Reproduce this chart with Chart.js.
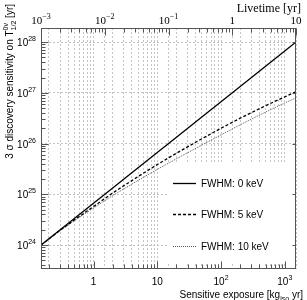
<!DOCTYPE html>
<html>
<head>
<meta charset="utf-8">
<script src="https://cdn.jsdelivr.net/npm/chart.js@4.4.0/dist/chart.umd.min.js"></script>
<style>
    html, body { margin: 0; padding: 0; background: #fff; }
    #wrap { width: 307px; height: 300px; }
</style>
</head>
<body>
<div id="wrap"><canvas id="chart" width="307" height="300"></canvas></div>
<script>
// Sensitive exposure [kg_iso yr]
const exposure = [0.15, 0.3, 0.5, 1, 2, 5, 10, 20, 50, 100, 200, 500, 1000, 1500];

// 3 sigma discovery sensitivity [yr]
const sensFwhm0 = [1.0e24, 2.0e24, 3.33e24, 6.67e24, 1.33e25, 3.33e25, 6.67e25, 1.33e26, 3.33e26, 6.67e26, 1.33e27, 3.33e27, 6.67e27, 1.0e28];
const sensFwhm5 = [1.0e24, 1.95e24, 3.13e24, 5.75e24, 1.06e25, 2.24e25, 3.85e25, 6.46e25, 1.24e26, 2.0e26, 3.16e26, 5.56e26, 8.32e26, 1.05e27];
const sensFwhm10 = [1.0e24, 1.93e24, 3.02e24, 5.37e24, 9.44e24, 1.88e25, 3.09e25, 5.01e25, 9.33e25, 1.48e26, 2.34e26, 4.17e26, 6.31e26, 7.94e26];

const seriesLabels = ['FWHM: 0 keV', 'FWHM: 5 keV', 'FWHM: 10 keV'];

// axis ranges and labelled ticks
const exposureRange = [0.15, 1500];
const livetimeRange = [0.001, 10];
const sensRange = [3.37e23, 1.89e28];
const exposureTicks = [1, 10, 100, 1000];
const livetimeTicks = [0.001, 0.01, 0.1, 1, 10];
const sensTicks = [1e24, 1e25, 1e26, 1e27, 1e28];

const SANS = '"Liberation Sans", Arial, sans-serif';
const SERIF = '"Liberation Serif", "Times New Roman", serif';

function isDecade(v) {
    const l = Math.log10(v);
    return Math.abs(l - Math.round(l)) < 1e-6;
}

// 1..9 x 10^k between min and max
function logTicks(min, max) {
    const out = [];
    for (let e = Math.floor(Math.log10(min)); e <= Math.ceil(Math.log10(max)); e++) {
        for (let m = 1; m < 10; m++) {
            const v = +(m * Math.pow(10, e)).toPrecision(6);
            if (v >= min * 0.9999 && v <= max * 1.0001) out.push(v);
        }
    }
    return out;
}

function powParts(v) {
    const e = Math.round(Math.log10(v));
    if (e === 0) return ['1', ''];
    if (e === 1) return ['10', ''];
    return ['10', String(e).replace('-', '\u2212')];
}

// pieces: {t, size, family, dy, noAdv}
function drawRich(ctx, pieces, x, y, align) {
    let total = 0;
    const widths = pieces.map(p => {
        ctx.font = p.size + 'px ' + p.family;
        const w = ctx.measureText(p.t).width;
        if (!p.noAdv) total += w;
        return w;
    });
    let cx = x;
    if (align === 'center') cx = x - total / 2;
    else if (align === 'right') cx = x - total;
    ctx.textAlign = 'left';
    ctx.textBaseline = 'alphabetic';
    pieces.forEach((p, i) => {
        ctx.font = p.size + 'px ' + p.family;
        ctx.fillText(p.t, cx, y + (p.dy || 0));
        if (!p.noAdv) cx += widths[i];
    });
    return total;
}

function powLabel(v, size, family) {
    const [b, e] = powParts(v);
    const pieces = [{ t: b, size: size, family: family }];
    if (e) pieces.push({ t: e, size: Math.round(size * 0.7), family: family, dy: -Math.round(size * 0.45) });
    return pieces;
}

const decorPlugin = {
    id: 'decor',
    afterDraw(chart) {
        const ctx = chart.ctx;
        const a = chart.chartArea;
        const sx = chart.scales.x, sx2 = chart.scales.x2, sy = chart.scales.y;
        const L = Math.round(a.left) + 0.5, R = Math.round(a.right) - 0.5;
        const T = Math.round(a.top) + 0.5, B = Math.round(a.bottom) - 0.5;
        ctx.save();

        // legend box, white fill over the grid
        ctx.fillStyle = '#fff';
        ctx.fillRect(168, 164, 127, 98);
        const rows = [183, 214, 246];
        chart.data.datasets.forEach((ds, i) => {
            ctx.beginPath();
            ctx.strokeStyle = ds.borderColor;
            ctx.lineWidth = ds.borderWidth;
            ctx.setLineDash(ds.borderDash || []);
            ctx.moveTo(173, rows[i] + 0.5);
            ctx.lineTo(196, rows[i] + 0.5);
            ctx.stroke();
            ctx.setLineDash([]);
            ctx.fillStyle = '#000';
            ctx.font = '10px ' + SANS;
            ctx.textAlign = 'left';
            ctx.textBaseline = 'middle';
            ctx.fillText(ds.label, 201, rows[i] + 1);
        });

        // frame
        ctx.strokeStyle = '#555';
        ctx.lineWidth = 1;
        ctx.setLineDash([]);
        ctx.strokeRect(L, T, R - L, B - T);

        // inward tick marks
        ctx.beginPath();
        sx.ticks.forEach(t => {
            const p = Math.round(sx.getPixelForValue(t.value)) + 0.5;
            const len = isDecade(t.value) ? 7 : 4;
            ctx.moveTo(p, B); ctx.lineTo(p, B - len);
        });
        sx2.ticks.forEach(t => {
            const p = Math.round(sx2.getPixelForValue(t.value)) + 0.5;
            const len = isDecade(t.value) ? 7 : 4;
            ctx.moveTo(p, T); ctx.lineTo(p, T + len);
        });
        sy.ticks.forEach(t => {
            const p = Math.round(sy.getPixelForValue(t.value)) + 0.5;
            const len = isDecade(t.value) ? 7 : 4;
            ctx.moveTo(L, p); ctx.lineTo(L + len, p);
            if (isDecade(t.value)) { ctx.moveTo(R, p); ctx.lineTo(R - 3, p); }
        });
        ctx.stroke();

        ctx.fillStyle = '#000';
        // tick labels
        sensTicks.forEach(v => {
            const p = sy.getPixelForValue(v);
            drawRich(ctx, powLabel(v, 10, SANS), 36, p + 4, 'right');
        });
        exposureTicks.forEach(v => {
            const p = sx.getPixelForValue(v);
            drawRich(ctx, powLabel(v, 10, SANS), p, 285, 'center');
        });
        livetimeTicks.forEach(v => {
            const p = sx2.getPixelForValue(v);
            drawRich(ctx, powLabel(v, 11, SERIF), p, 24, 'center');
        });

        // axis titles
        drawRich(ctx, [{ t: 'Livetime [yr]', size: 12, family: SERIF }], 301, 12, 'right');
        drawRich(ctx, [
            { t: 'Sensitive exposure [kg', size: 10, family: SANS },
            { t: 'iso', size: 7, family: SANS, dy: 3 },
            { t: ' yr]', size: 10, family: SANS }
        ], 303, 298, 'right');

        ctx.translate(13, 4);
        ctx.rotate(-Math.PI / 2);
        drawRich(ctx, [
            { t: '3 \u03c3 discovery sensitivity on T', size: 10, family: SANS },
            { t: '0\u03bd', size: 7, family: SANS, dy: -5, noAdv: true },
            { t: '1/2', size: 7, family: SANS, dy: 3 },
            { t: ' [yr]', size: 10, family: SANS }
        ], 0, 0, 'right');

        ctx.restore();
    }
};

const toPoints = ys => exposure.map((x, i) => ({ x: x, y: ys[i] }));

const gridDash = { display: false, dash: [2, 2] };
const gridGray = '#c4c4c4';

new Chart(document.getElementById('chart').getContext('2d'), {
    type: 'line',
    data: {
        datasets: [
            {
                label: seriesLabels[0],
                data: toPoints(sensFwhm0),
                borderColor: '#000',
                borderWidth: 1.3
            },
            {
                label: seriesLabels[1],
                data: toPoints(sensFwhm5),
                borderColor: '#000',
                borderWidth: 1.3,
                borderDash: [3, 2]
            },
            {
                label: seriesLabels[2],
                data: toPoints(sensFwhm10),
                borderColor: '#555',
                borderWidth: 1,
                borderDash: [1, 1]
            }
        ]
    },
    options: {
        responsive: false,
        animation: false,
        devicePixelRatio: 1,
        layout: { padding: { left: 41, right: 11, top: 28, bottom: 31 } },
        elements: { point: { radius: 0 }, line: { tension: 0 } },
        plugins: { legend: { display: false }, tooltip: { enabled: false } },
        scales: {
            x: {
                type: 'logarithmic',
                position: 'bottom',
                min: exposureRange[0],
                max: exposureRange[1],
                afterBuildTicks: s => { s.ticks = logTicks(s.min, s.max).map(v => ({ value: v })); },
                ticks: { display: false },
                grid: { color: gridGray, lineWidth: 1, drawTicks: false },
                border: gridDash
            },
            x2: {
                type: 'logarithmic',
                position: 'top',
                min: livetimeRange[0],
                max: livetimeRange[1],
                afterBuildTicks: s => { s.ticks = logTicks(s.min, s.max).map(v => ({ value: v })); },
                ticks: { display: false },
                grid: {
                    color: c => (c.tick && isDecade(c.tick.value)) ? gridGray : 'rgba(0,0,0,0)',
                    lineWidth: 1,
                    drawTicks: false
                },
                border: gridDash
            },
            y: {
                type: 'logarithmic',
                position: 'left',
                min: sensRange[0],
                max: sensRange[1],
                afterBuildTicks: s => { s.ticks = logTicks(s.min, s.max).map(v => ({ value: v })); },
                ticks: { display: false },
                grid: {
                    color: c => (c.tick && isDecade(c.tick.value)) ? gridGray : 'rgba(0,0,0,0)',
                    lineWidth: 1,
                    drawTicks: false
                },
                border: gridDash
            }
        }
    },
    plugins: [decorPlugin]
});
</script>
</body>
</html>
